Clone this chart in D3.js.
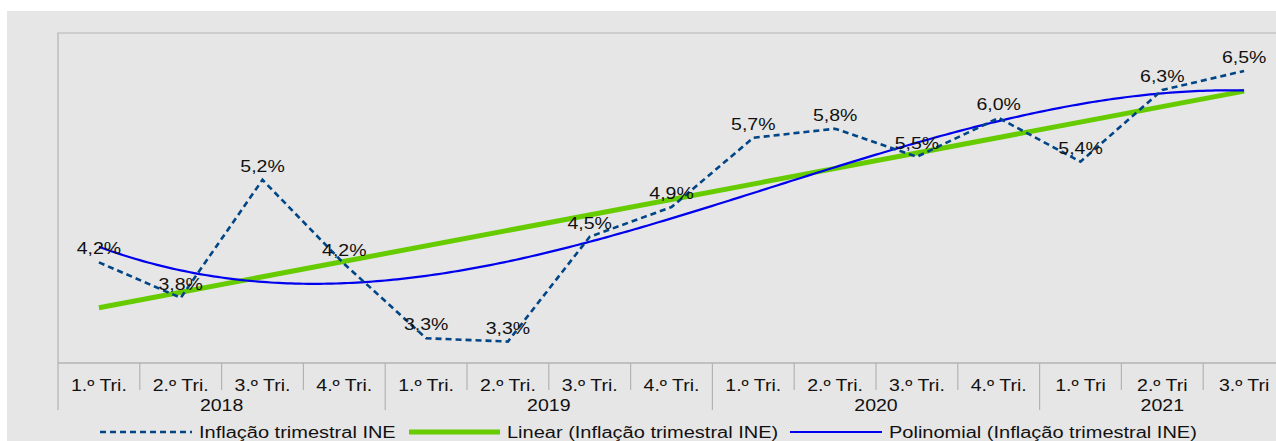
<!DOCTYPE html>
<html><head><meta charset="utf-8">
<script src="https://cdn.jsdelivr.net/npm/d3@7"></script>
<style>
html,body{margin:0;padding:0;background:#fff;}
svg{display:block;font-family:"Liberation Sans",Arial,sans-serif;}
</style></head>
<body>
<svg id="c" width="1276" height="441"></svg>
<script>
// ---- data ----
const quarters = ["1.º Tri.","2.º Tri.","3.º Tri.","4.º Tri.","1.º Tri.","2.º Tri.","3.º Tri.","4.º Tri.","1.º Tri.","2.º Tri.","3.º Tri.","4.º Tri.","1.º Tri","2.º Tri","3.º Tri"];
const years = ["2018","2019","2020","2021"];
const yearCounts = [4,4,4,3];
const inflation = [4.22,3.79,5.22,4.20,3.30,3.26,4.53,4.89,5.73,5.84,5.50,5.97,5.44,6.31,6.54];
const legendLabels = ["Inflação trimestral INE","Linear (Inflação trimestral INE)","Polinomial (Inflação trimestral INE)"];

// ---- layout ----
const W=1276,H=441;
const plot={left:58,top:33,right:1285,bottom:363};
const SX=1.22; // horizontal stretch of text
const svg=d3.select("#c");
svg.append("rect").attr("x",7).attr("y",11).attr("width",W-7).attr("height",H-11).attr("fill","#e6e6e6");

const idx=quarters.map((d,i)=>i);
const xb=d3.scaleBand().domain(idx).range([plot.left,plot.right]).padding(0);
const xc=d3.scaleLinear().domain([0,quarters.length]).range([plot.left,plot.right]);
const y=d3.scaleLinear().domain([3,7]).range([plot.bottom,plot.top]);

// plot frame
svg.append("path").attr("d",`M${plot.left},${plot.bottom}V${plot.top}H${plot.right}`).attr("fill","none").attr("stroke","#b3b3b3").attr("stroke-width",1.2);
svg.append("line").attr("x1",plot.left).attr("x2",plot.right).attr("y1",plot.bottom).attr("y2",plot.bottom).attr("stroke","#b3b3b3").attr("stroke-width",1.6);

// category ticks
const boundaries=d3.range(quarters.length+1);
const yearBounds=[0];yearCounts.reduce((a,c)=>{yearBounds.push(a+c);return a+c;},0);
svg.append("g").selectAll("line").data(boundaries).join("line")
  .attr("x1",d=>xc(d)).attr("x2",d=>xc(d)).attr("y1",plot.bottom)
  .attr("y2",d=>yearBounds.includes(d)?410:390)
  .attr("stroke","#b3b3b3").attr("stroke-width",1.2);

function stretchedText(g,x,yy,txt,size){
  return g.append("text").attr("transform",`translate(${x},${yy}) scale(${SX},1)`)
    .attr("text-anchor","middle").attr("font-size",size).attr("fill","#111").text(txt);
}
const tg=svg.append("g");
quarters.forEach((q,i)=>stretchedText(tg,xb(i)+xb.bandwidth()/2,391,q,16));
let acc=0;
years.forEach((yr,i)=>{const a=acc,b=acc+yearCounts[i];acc=b;stretchedText(tg,(xc(a)+xc(b))/2,411,yr,16);});

// ---- trendlines computed from data ----
const xs=inflation.map((d,i)=>i+1);
const n=xs.length,mx=d3.mean(xs),my=d3.mean(inflation);
const slope=d3.sum(xs.map((x,i)=>(x-mx)*(inflation[i]-my)))/d3.sum(xs.map(x=>(x-mx)**2));
const icpt=my-slope*mx;
function polyfit(X,Y,deg){
  const m=deg+1,A=[];
  for(let r=0;r<m;r++){A.push([]);for(let c=0;c<m;c++)A[r].push(d3.sum(X.map(x=>x**(r+c))));A[r].push(d3.sum(X.map((x,i)=>x**r*Y[i])));}
  for(let k=0;k<m;k++){let p=k;for(let r=k+1;r<m;r++)if(Math.abs(A[r][k])>Math.abs(A[p][k]))p=r;[A[k],A[p]]=[A[p],A[k]];
    for(let r=0;r<m;r++){if(r===k)continue;const f=A[r][k]/A[k][k];for(let c=k;c<=m;c++)A[r][c]-=f*A[k][c];}}
  return A.map((row,k)=>row[m]/row[k]);
}
const coef=polyfit(xs,inflation,3);
const poly=x=>coef.reduce((s,c,k)=>s+c*x**k,0);
const px=x=>xc(x-0.5);

const line=d3.line().x(d=>px(d[0])).y(d=>y(d[1]));
svg.append("path").attr("d",line([[1,icpt+slope],[n,icpt+slope*n]])).attr("fill","none").attr("stroke","#66cc00").attr("stroke-width",5);
const samples=d3.range(1,n+0.0001,0.05).map(x=>[x,poly(x)]);
svg.append("path").attr("d",line(samples)).attr("fill","none").attr("stroke","#0000ee").attr("stroke-width",2.2);
svg.append("path").attr("d",d3.line().x((d,i)=>xb(i)+xb.bandwidth()/2).y(d=>y(d))(inflation))
  .attr("fill","none").attr("stroke","#004586").attr("stroke-width",2.6).attr("stroke-dasharray","6,4");

// data labels
const fmt=v=>d3.format(".1f")(v).replace(".",",")+"%";
const lg=svg.append("g");
inflation.forEach((v,i)=>stretchedText(lg,xb(i)+xb.bandwidth()/2,y(v)-8,fmt(v),16));

// ---- legend ----
const legY=432;
const leg=svg.append("g");
const items=[
  {x1:100,x2:192,tx:199,stroke:"#004586",w:2.6,dash:"6,4"},
  {x1:409,x2:500,tx:507,stroke:"#66cc00",w:5,dash:null},
  {x1:790,x2:882,tx:889,stroke:"#0000ee",w:2.2,dash:null}
];
items.forEach((it,i)=>{
  leg.append("line").attr("x1",it.x1).attr("x2",it.x2).attr("y1",legY).attr("y2",legY)
    .attr("stroke",it.stroke).attr("stroke-width",it.w).attr("stroke-dasharray",it.dash);
  leg.append("text").attr("transform",`translate(${it.tx},${legY+6}) scale(1.25,1)`)
    .attr("font-size",16).attr("fill","#111").text(legendLabels[i]);
});
</script>
</body></html>
